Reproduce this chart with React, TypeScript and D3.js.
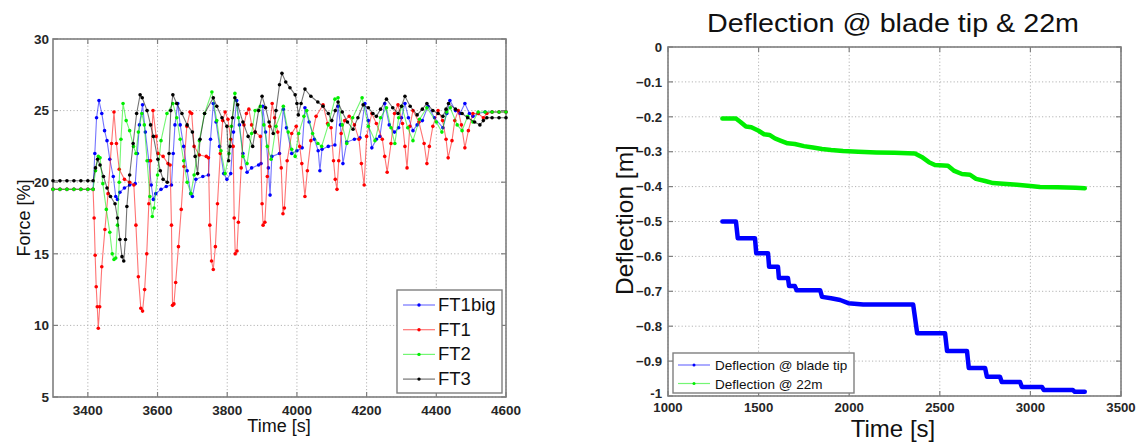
import React from 'react';
import * as d3 from 'd3';

// ---------------- Left chart data: Force [%] vs Time [s] ----------------
const ft1bigT = [3300, 3320, 3340, 3360, 3380, 3400, 3415, 3420, 3425, 3432, 3440, 3448, 3455, 3463, 3473, 3480, 3485, 3492, 3505, 3520, 3536, 3542, 3548, 3557, 3565, 3575, 3582, 3588, 3595, 3610, 3625, 3640, 3645, 3650, 3658, 3665, 3675, 3685, 3695, 3700, 3710, 3730, 3746, 3752, 3760, 3768, 3778, 3790, 3799, 3810, 3818, 3827, 3835, 3845, 3857, 3870, 3890, 3897, 3902, 3910, 3918, 3923, 3928, 3950, 3961, 3970, 3985, 4000, 4015, 4023, 4035, 4050, 4061, 4066, 4072, 4090, 4109, 4118, 4125, 4132, 4143, 4165, 4181, 4195, 4205, 4215, 4228, 4238, 4252, 4265, 4280, 4292, 4300, 4310, 4320, 4333, 4345, 4360, 4376, 4395, 4419, 4430, 4439, 4455, 4468, 4482, 4495, 4505, 4520, 4540, 4560, 4580, 4600];
const ft1bigV = [19.5, 19.5, 19.5, 19.5, 19.5, 19.5, 19.5, 22.0, 24.5, 25.7, 24.8, 23.6, 22.9, 21.6, 20.4, 19.0, 18.8, 19.3, 19.6, 19.8, 19.9, 22.0, 24.0, 25.4, 23.5, 21.5, 19.8, 18.8, 19.2, 19.5, 19.7, 19.8, 22.0, 24.0, 25.5, 24.0, 22.5, 20.8, 19.2, 19.0, 20.2, 20.4, 20.5, 23.0, 25.5, 24.2, 22.5, 20.6, 20.2, 20.6, 23.5, 25.7, 24.0, 22.0, 20.7, 21.0, 21.2, 21.3, 25.3, 23.5, 21.0, 19.1, 21.8, 22.0, 25.1, 23.8, 22.0, 22.2, 22.4, 25.2, 24.2, 23.0, 22.2, 20.8, 22.3, 22.5, 22.6, 25.3, 24.0, 21.3, 22.8, 23.0, 23.1, 25.5, 24.3, 22.4, 23.0, 23.2, 25.5, 24.0, 23.5, 23.8, 24.5, 25.5, 24.5, 23.6, 24.0, 24.3, 25.3, 24.5, 23.8, 24.8, 25.7, 25.0, 24.8, 25.5, 24.8, 24.6, 24.8, 24.9, 24.9, 24.9, 24.9];

const ft1T = [3300, 3320, 3340, 3360, 3380, 3400, 3415, 3418, 3421, 3424, 3427, 3430, 3434, 3440, 3449, 3458, 3468, 3475, 3482, 3490, 3505, 3520, 3532, 3538, 3545, 3552, 3557, 3563, 3569, 3575, 3580, 3587, 3596, 3602, 3616, 3630, 3636, 3640, 3643, 3647, 3652, 3660, 3668, 3676, 3684, 3693, 3698, 3705, 3720, 3740, 3746, 3750, 3755, 3760, 3766, 3772, 3780, 3787, 3794, 3802, 3810, 3817, 3820, 3823, 3828, 3832, 3840, 3848, 3855, 3862, 3870, 3880, 3895, 3900, 3903, 3908, 3915, 3922, 3929, 3936, 3945, 3955, 3960, 3964, 3972, 3985, 3998, 4008, 4014, 4023, 4030, 4040, 4055, 4075, 4088, 4098, 4105, 4110, 4115, 4120, 4127, 4137, 4150, 4165, 4178, 4185, 4193, 4200, 4215, 4228, 4245, 4252, 4259, 4270, 4280, 4290, 4303, 4310, 4316, 4324, 4333, 4350, 4365, 4373, 4380, 4390, 4405, 4418, 4428, 4434, 4445, 4453, 4463, 4472, 4482, 4492, 4505, 4520, 4535, 4545, 4560, 4580, 4600];
const ft1V = [19.5, 19.5, 19.5, 19.5, 19.5, 19.5, 19.5, 17.5, 14.9, 12.7, 11.3, 9.8, 11.3, 14.1, 16.7, 19.2, 22.7, 24.9, 22.7, 20.9, 20.2, 20.0, 19.8, 17.0, 13.4, 11.2, 11.0, 12.5, 15.0, 18.5, 21.5, 25.0, 23.2, 22.0, 21.8, 21.3, 21.2, 17.0, 11.4, 11.5, 13.0, 15.5, 18.1, 21.1, 23.9, 24.9, 24.8, 22.5, 21.9, 21.8, 21.7, 17.0, 14.5, 13.9, 15.5, 18.5, 22.0, 24.3, 24.9, 24.4, 23.0, 22.5, 17.5, 15.0, 15.2, 17.2, 21.0, 24.0, 24.8, 25.1, 24.0, 23.5, 23.2, 18.5, 17.0, 17.2, 20.4, 23.9, 25.5, 24.5, 23.5, 21.0, 17.8, 18.2, 21.5, 23.4, 23.9, 22.5, 21.3, 19.0, 20.8, 22.9, 24.6, 25.4, 24.1, 23.8, 21.5, 20.2, 19.5, 21.5, 23.4, 24.3, 24.6, 24.0, 23.0, 21.3, 19.8, 23.2, 24.8, 24.1, 23.0, 21.8, 20.7, 22.7, 24.8, 25.4, 24.1, 22.5, 21.0, 23.9, 25.0, 24.2, 22.7, 21.3, 22.5, 23.9, 25.0, 24.3, 23.0, 21.7, 22.9, 24.3, 25.0, 24.0, 22.4, 23.6, 24.8, 24.8, 24.5, 24.8, 24.9, 24.9, 24.9];

const ft2T = [3300, 3320, 3340, 3360, 3380, 3400, 3415, 3422, 3430, 3435, 3443, 3453, 3463, 3470, 3475, 3480, 3485, 3490, 3495, 3501, 3510, 3520, 3531, 3538, 3545, 3555, 3562, 3570, 3578, 3585, 3590, 3600, 3610, 3627, 3644, 3655, 3665, 3675, 3685, 3696, 3705, 3720, 3735, 3756, 3770, 3782, 3794, 3805, 3812, 3822, 3832, 3845, 3857, 3870, 3880, 3895, 3905, 3915, 3926, 3940, 3961, 3975, 3985, 3995, 4005, 4020, 4028, 4045, 4060, 4071, 4090, 4109, 4118, 4130, 4143, 4160, 4187, 4205, 4224, 4240, 4257, 4270, 4281, 4292, 4301, 4318, 4333, 4352, 4373, 4400, 4416, 4430, 4440, 4460, 4474, 4490, 4505, 4520, 4540, 4560, 4580, 4600];
const ft2V = [19.5, 19.5, 19.5, 19.5, 19.5, 19.5, 19.5, 20.8, 21.8, 21.7, 19.9, 18.1, 16.5, 15.0, 14.6, 14.7, 17.0, 20.0, 23.0, 25.5, 24.3, 23.6, 22.5, 22.0, 23.5, 24.8, 24.0, 21.5, 19.0, 17.6, 18.2, 20.5, 22.9, 24.8, 25.5, 24.5, 23.0, 21.5, 20.0, 19.2, 20.5, 22.9, 24.8, 26.3, 24.3, 22.2, 20.6, 22.0, 23.9, 26.2, 24.5, 21.8, 21.3, 23.4, 25.0, 25.3, 24.0, 22.5, 21.6, 23.9, 25.3, 23.5, 22.3, 21.8, 23.4, 24.6, 25.0, 23.4, 22.7, 22.5, 24.0, 25.8, 25.9, 24.0, 22.7, 24.5, 25.9, 23.9, 22.9, 24.5, 25.2, 23.8, 22.7, 24.5, 25.3, 23.8, 22.9, 24.4, 25.2, 24.2, 23.5, 24.9, 25.2, 24.0, 23.6, 24.6, 24.2, 24.9, 24.9, 24.9, 24.9, 24.9];

const ft3T = [3300, 3320, 3340, 3360, 3380, 3400, 3415, 3422, 3428, 3435, 3445, 3455, 3465, 3478, 3485, 3492, 3498, 3503, 3508, 3512, 3520, 3530, 3540, 3550, 3556, 3570, 3580, 3588, 3601, 3608, 3616, 3628, 3633, 3638, 3644, 3655, 3670, 3685, 3700, 3708, 3715, 3722, 3735, 3760, 3770, 3785, 3799, 3804, 3808, 3815, 3822, 3830, 3845, 3860, 3873, 3880, 3890, 3900, 3910, 3920, 3932, 3940, 3950, 3957, 3968, 3980, 3995, 4000, 4004, 4012, 4023, 4040, 4060, 4075, 4090, 4100, 4110, 4118, 4130, 4145, 4161, 4175, 4190, 4205, 4218, 4228, 4240, 4257, 4275, 4290, 4300, 4310, 4325, 4345, 4360, 4373, 4390, 4405, 4419, 4428, 4435, 4455, 4474, 4490, 4510, 4525, 4535, 4545, 4560, 4580, 4600];
const ft3V = [20.1, 20.1, 20.1, 20.1, 20.1, 20.1, 20.1, 21.0, 21.6, 21.2, 20.4, 19.6, 19.0, 18.5, 17.5, 16.0, 14.8, 14.5, 16.0, 18.3, 20.5, 22.7, 24.8, 26.1, 25.9, 25.0, 24.0, 23.2, 21.6, 20.8, 20.2, 20.0, 22.0, 25.0, 26.1, 25.5, 24.8, 24.0, 23.5, 21.8, 20.6, 23.0, 24.8, 25.9, 25.3, 24.5, 23.9, 21.5, 22.5, 24.5, 25.9, 25.4, 24.2, 23.2, 22.5, 23.5, 25.0, 26.0, 25.2, 24.2, 23.4, 25.0, 26.8, 27.6, 27.0, 26.6, 26.1, 25.5, 24.7, 25.5, 26.5, 26.0, 25.6, 25.3, 24.8, 24.3, 25.0, 25.6, 24.9, 24.2, 23.7, 24.5, 25.4, 25.2, 24.8, 24.6, 25.1, 25.8, 25.2, 24.8, 25.3, 26.0, 25.3, 24.7, 25.1, 25.5, 25.0, 24.8, 24.6, 25.1, 25.5, 25.1, 24.8, 24.5, 24.2, 24.0, 24.3, 24.5, 24.5, 24.5, 24.5];

const leftSeriesNames = ['FT1big', 'FT1', 'FT2', 'FT3'];
const leftColors = ['#0000ff', '#ff0000', '#00ee00', '#000000'];
const leftXTicks = [3400, 3600, 3800, 4000, 4200, 4400, 4600];
const leftYTicks = [5, 10, 15, 20, 25, 30];

// ---------------- Right chart data: Deflection [m] vs Time [s] ----------------
const tipT = [1300, 1375, 1385, 1480, 1487, 1552, 1558, 1607, 1612, 1662, 1668, 1700, 1710, 1840, 1850, 1900, 1950, 1995, 2077, 2353, 2375, 2529, 2540, 2650, 2660, 2750, 2760, 2832, 2842, 2943, 2953, 3064, 3074, 3235, 3245, 3300];
const tipV = [-0.50, -0.50, -0.548, -0.548, -0.591, -0.591, -0.63, -0.63, -0.662, -0.662, -0.685, -0.685, -0.697, -0.697, -0.716, -0.72, -0.725, -0.734, -0.738, -0.738, -0.82, -0.82, -0.871, -0.871, -0.92, -0.92, -0.945, -0.945, -0.96, -0.96, -0.974, -0.974, -0.983, -0.983, -0.988, -0.988];

const m22T = [1300, 1375, 1400, 1430, 1460, 1500, 1530, 1560, 1590, 1620, 1660, 1700, 1750, 1800, 1850, 1900, 1966, 2050, 2150, 2250, 2363, 2400, 2440, 2473, 2545, 2580, 2622, 2667, 2700, 2750, 2794, 2850, 2926, 3000, 3053, 3150, 3250, 3300];
const m22V = [-0.205, -0.205, -0.215, -0.228, -0.23, -0.24, -0.25, -0.252, -0.262, -0.268, -0.276, -0.278, -0.284, -0.288, -0.292, -0.295, -0.298, -0.300, -0.302, -0.303, -0.305, -0.315, -0.33, -0.338, -0.34, -0.355, -0.364, -0.366, -0.378, -0.384, -0.39, -0.392, -0.395, -0.398, -0.401, -0.402, -0.403, -0.405];

const rightSeriesNames = ['Deflection @ blade tip', 'Deflection @ 22m'];
const rightColors = ['#0000ff', '#00ee00'];
const rightXTicks = [1000, 1500, 2000, 2500, 3000, 3500];
const rightYTicks = [0, -0.1, -0.2, -0.3, -0.4, -0.5, -0.6, -0.7, -0.8, -0.9, -1];

const FONT = '"Liberation Sans", Arial, Helvetica, sans-serif';
const AXIS_GRAY = '#7f7f7f';
const GRID = '#b4b4b4';
const TICK_TEXT = '#262626';

type Pt = [number, number];
const zip = (t: number[], v: number[]): Pt[] => t.map((x, i) => [x, v[i]]);

function Frame({ x, y, xTicks, yTicks, xfmt, yfmt, fs, yLabelGap, xLabelY, yLabelShift }: any) {
  const [x0, x1] = x.range();
  const [y0, y1] = y.range(); // y0 bottom, y1 top
  return (
    <g>
      {xTicks.map((t: number) => (
        <line key={'gx' + t} x1={x(t)} x2={x(t)} y1={y0} y2={y1} stroke={GRID} strokeWidth={1} strokeDasharray="1.2,2.2" />
      ))}
      {yTicks.map((t: number) => (
        <line key={'gy' + t} x1={x0} x2={x1} y1={y(t)} y2={y(t)} stroke={GRID} strokeWidth={1} strokeDasharray="1.2,2.2" />
      ))}
      <rect x={x0} y={y1} width={x1 - x0} height={y0 - y1} fill="none" stroke={AXIS_GRAY} strokeWidth={1.6} />
      {xTicks.map((t: number) => (
        <g key={'tx' + t}>
          <line x1={x(t)} x2={x(t)} y1={y0} y2={y0 - 5} stroke={AXIS_GRAY} strokeWidth={1.2} />
          <line x1={x(t)} x2={x(t)} y1={y1} y2={y1 + 5} stroke={AXIS_GRAY} strokeWidth={1.2} />
          <text x={x(t)} y={xLabelY} textAnchor="middle" fontFamily={FONT} fontSize={fs} fontWeight="bold" fill={TICK_TEXT}>{xfmt(t)}</text>
        </g>
      ))}
      {yTicks.map((t: number) => (
        <g key={'ty' + t}>
          <line x1={x0} x2={x0 + 5} y1={y(t)} y2={y(t)} stroke={AXIS_GRAY} strokeWidth={1.2} />
          <line x1={x1} x2={x1 - 5} y1={y(t)} y2={y(t)} stroke={AXIS_GRAY} strokeWidth={1.2} />
          <text x={x0 - yLabelGap} y={y(t) + fs * 0.36 + (yLabelShift ? yLabelShift(t) : 0)} textAnchor="end" fontFamily={FONT} fontSize={fs} fontWeight="bold" fill={TICK_TEXT}>{yfmt(t)}</text>
        </g>
      ))}
    </g>
  );
}

function LeftChart() {
  const x = d3.scaleLinear().domain([3300, 4600]).range([53, 506]);
  const y = d3.scaleLinear().domain([5, 30]).range([397, 39]);
  const series: Pt[][] = [zip(ft1bigT, ft1bigV), zip(ft1T, ft1V), zip(ft2T, ft2V), zip(ft3T, ft3V)];
  const line = d3.line<Pt>().x((d) => x(d[0])).y((d) => y(d[1]));
  const lg = { x: 397, y: 290, w: 105, h: 103 };
  return (
    <g>
      <Frame x={x} y={y} xTicks={leftXTicks} yTicks={leftYTicks} xfmt={(t: number) => String(t)} yfmt={(t: number) => String(t)} fs={13.5} yLabelGap={4} xLabelY={415} />
      {series.map((s, i) => (
        <g key={i}>
          <path d={line(s) || ''} fill="none" stroke={leftColors[i]} strokeOpacity={0.55} strokeWidth={1.1} />
          {s.map((d, j) => (
            <circle key={j} cx={x(d[0])} cy={y(d[1])} r={1.8} fill={leftColors[i]} />
          ))}
        </g>
      ))}
      <text x={279} y={432} textAnchor="middle" fontFamily={FONT} fontSize={18} fill="#111">Time [s]</text>
      <text transform="translate(30,218) rotate(-90)" textAnchor="middle" fontFamily={FONT} fontSize={18} fill="#111">Force [%]</text>
      <rect x={lg.x} y={lg.y} width={lg.w} height={lg.h} fill="#fff" stroke={AXIS_GRAY} strokeWidth={1.4} />
      {leftSeriesNames.map((n, i) => {
        const cy = 305 + i * 24.7;
        return (
          <g key={n}>
            <line x1={403} x2={435} y1={cy} y2={cy} stroke={leftColors[i]} strokeOpacity={0.55} strokeWidth={1.2} />
            <circle cx={419} cy={cy} r={1.7} fill={leftColors[i]} />
            <text x={438} y={cy + 6} fontFamily={FONT} fontSize={18.5} fill="#111">{n}</text>
          </g>
        );
      })}
    </g>
  );
}

function RightChart() {
  const x = d3.scaleLinear().domain([1000, 3500]).range([668, 1121]);
  const y = d3.scaleLinear().domain([-1, 0]).range([396, 47]);
  const series: Pt[][] = [zip(tipT, tipV), zip(m22T, m22V)];
  const line = d3.line<Pt>().x((d) => x(d[0])).y((d) => y(d[1]));
  const fmtY = (t: number) => (t === 0 ? '0' : t === -1 ? '-1' : d3.format('.1f')(t));
  return (
    <g>
      <Frame x={x} y={y} xTicks={rightXTicks} yTicks={rightYTicks} xfmt={(t: number) => String(t)} yfmt={fmtY} fs={13.2} yLabelGap={6} xLabelY={412} yLabelShift={(t: number) => (t === -1 ? -3 : 0)} />
      {series.map((s, i) => (
        <path key={i} d={line(s) || ''} fill="none" stroke={rightColors[i]} strokeWidth={4.5} strokeLinejoin="round" strokeLinecap="round" />
      ))}
      <text x={893} y={32} textAnchor="middle" fontFamily={FONT} fontSize={26.5} textLength={372} lengthAdjust="spacingAndGlyphs" fill="#111">Deflection @ blade tip &amp; 22m</text>
      <text x={893} y={437} textAnchor="middle" fontFamily={FONT} fontSize={24} fill="#111">Time [s]</text>
      <text transform="translate(633,220) rotate(-90)" textAnchor="middle" fontFamily={FONT} fontSize={24.5} fill="#111">Deflection [m]</text>
      <rect x={673} y={353} width={181} height={40} fill="#fff" stroke={AXIS_GRAY} strokeWidth={1.4} />
      {rightSeriesNames.map((n, i) => {
        const cy = 365 + i * 18.5;
        return (
          <g key={n}>
            <line x1={678} x2={710} y1={cy} y2={cy} stroke={rightColors[i]} strokeOpacity={0.55} strokeWidth={1.2} />
            <circle cx={694} cy={cy} r={1.5} fill={rightColors[i]} />
            <text x={715} y={cy + 5} fontFamily={FONT} fontSize={13.5} fill="#111">{n}</text>
          </g>
        );
      })}
    </g>
  );
}

export default function App() {
  return (
    <svg width={1148} height={445} viewBox="0 0 1148 445" style={{ position: 'absolute', left: 0, top: 0, background: '#fff', display: 'block' }}>
      <rect x={0} y={0} width={1148} height={445} fill="#fff" />
      <LeftChart />
      <RightChart />
    </svg>
  );
}
